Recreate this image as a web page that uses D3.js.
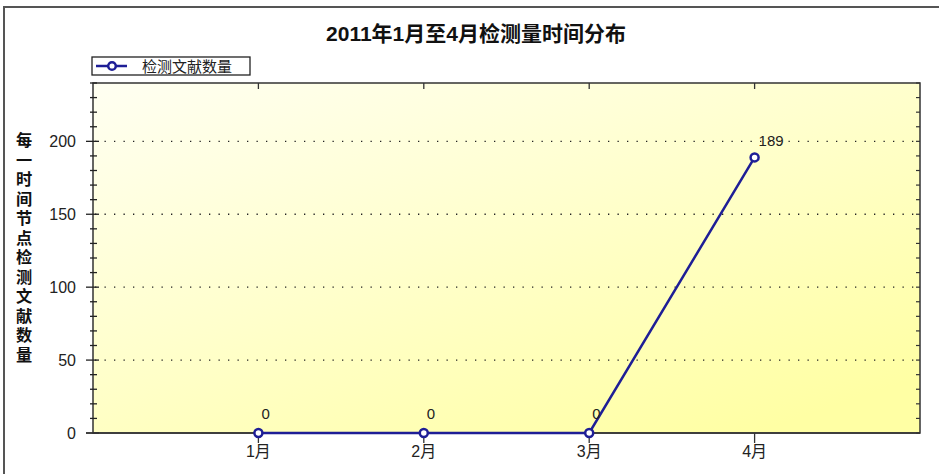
<!DOCTYPE html>
<html><head><meta charset="utf-8">
<script src="https://cdn.jsdelivr.net/npm/d3@7"></script>
<style>body{margin:0;background:#fff}svg{display:block}</style>
</head><body>
<script>
const categories = ["1月","2月","3月","4月"];
const values = [0, 0, 0, 189];
const yTicks = [0, 50, 100, 150, 200];
const seriesName = "检测文献数量";
const title = "2011年1月至4月检测量时间分布";
const yTitle = "每一时间节点检测文献数量";

const W = 939, H = 474;
const svg = d3.select("body").append("svg").attr("width", W).attr("height", H);
const font = "Arial, 'Liberation Sans', 'Noto Sans CJK SC', sans-serif";

const defs = svg.append("defs");
const grad = defs.append("linearGradient").attr("id","bg").attr("x1","0").attr("y1","0").attr("x2","0.8").attr("y2","1");
grad.append("stop").attr("offset","0%").attr("stop-color","#fffff2");
grad.append("stop").attr("offset","50%").attr("stop-color","#ffffcc");
grad.append("stop").attr("offset","100%").attr("stop-color","#ffffa4");

// outer border
svg.append("rect").attr("x",4).attr("y",7).attr("width",W).attr("height",H)
  .attr("fill","#fff").attr("stroke","#555").attr("stroke-width",2);

const L = 93, R = 920, T = 83, B = 433;
const x = d3.scalePoint().domain(categories).range([L, R]).padding(1);
const y = d3.scaleLinear().domain([0, 240]).range([B, T]);

svg.append("rect").attr("x",L).attr("y",T).attr("width",R-L).attr("height",B-T).attr("fill","url(#bg)");

// grid
svg.append("g").selectAll("line").data(yTicks.filter(d=>d>0)).join("line")
  .attr("x1",L+2).attr("x2",R).attr("y1",d=>y(d)).attr("y2",d=>y(d))
  .attr("stroke","#222").attr("stroke-width",1.3).attr("stroke-dasharray","1.3,8.2");

// frame
svg.append("rect").attr("x",L).attr("y",T).attr("width",R-L).attr("height",B-T)
  .attr("fill","none").attr("stroke","#333").attr("stroke-width",1.5);

const minor = d3.range(0, 241, 10);
// left ticks (crossing)
svg.append("g").selectAll("line").data(minor).join("line")
  .attr("x1",d=>d%50===0?L-7:L-3).attr("x2",d=>d%50===0?L+6:L+4)
  .attr("y1",d=>y(d)).attr("y2",d=>y(d)).attr("stroke","#222").attr("stroke-width",1.3);
// right ticks inward
svg.append("g").selectAll("line").data(minor).join("line")
  .attr("x1",R-4).attr("x2",R).attr("y1",d=>y(d)).attr("y2",d=>y(d))
  .attr("stroke","#333").attr("stroke-width",1.2);
// bottom axis extension to left
svg.append("line").attr("x1",L-7).attr("x2",R).attr("y1",B).attr("y2",B).attr("stroke","#333").attr("stroke-width",1.5);
// bottom ticks
svg.append("g").selectAll("line").data(categories).join("line")
  .attr("x1",d=>x(d)).attr("x2",d=>x(d)).attr("y1",B).attr("y2",B+10).attr("stroke","#333").attr("stroke-width",1.3);
// top ticks
svg.append("g").selectAll("line").data(categories).join("line")
  .attr("x1",d=>x(d)).attr("x2",d=>x(d)).attr("y1",T).attr("y2",T+6).attr("stroke","#333").attr("stroke-width",1.3);

// y tick labels
svg.append("g").selectAll("text").data(yTicks).join("text")
  .attr("x",76).attr("y",d=>y(d)+5.5).attr("text-anchor","end")
  .attr("font-family",font).attr("font-size",16).attr("fill","#222").text(d=>d);
// x labels
svg.append("g").selectAll("text").data(categories).join("text")
  .attr("x",d=>x(d)).attr("y",457).attr("text-anchor","middle")
  .attr("font-family",font).attr("font-size",16).attr("fill","#222").text(d=>d);

// title
svg.append("text").attr("x",476).attr("y",41).attr("text-anchor","middle")
  .attr("font-family",font).attr("font-size",21).attr("font-weight","bold").attr("fill","#111").text(title);

// y title vertical
svg.append("text").attr("x",24).attr("y",132)
  .style("writing-mode","vertical-rl").style("text-orientation","upright")
  .attr("letter-spacing",3.3)
  .attr("font-family","'Noto Sans CJK SC', sans-serif").attr("font-size",16.2).attr("font-weight","bold").attr("fill","#111").text(yTitle);

// legend
svg.append("rect").attr("x",92).attr("y",57).attr("width",158).attr("height",18).attr("fill","#fff").attr("stroke","#222").attr("stroke-width",1.3);
svg.append("line").attr("x1",96).attr("x2",127).attr("y1",66).attr("y2",66).attr("stroke","#1e1e96").attr("stroke-width",2.5);
svg.append("circle").attr("cx",112).attr("cy",66).attr("r",3.8).attr("fill","#fff").attr("stroke","#1e1e96").attr("stroke-width",2.5);
svg.append("text").attr("x",142).attr("y",72).attr("font-family","'Noto Sans CJK SC', sans-serif").attr("font-size",15).attr("fill","#222").text(seriesName);

// line
const data = categories.map((c,i)=>({c, v: values[i]}));
svg.append("path").datum(data)
  .attr("d", d3.line().x(d=>x(d.c)).y(d=>y(d.v)))
  .attr("fill","none").attr("stroke","#1e1e96").attr("stroke-width",2.5);
svg.append("g").selectAll("circle").data(data).join("circle")
  .attr("cx",d=>x(d.c)).attr("cy",d=>y(d.v)).attr("r",4)
  .attr("fill","#fff").attr("stroke","#1e1e96").attr("stroke-width",2.5);
// data labels
svg.append("g").selectAll("text").data(data).join("text")
  .attr("x",d=>x(d.c)+ (d.v>0?4:3)).attr("y",d=>y(d.v)-(d.v>0?11:14))
  .attr("font-family",font).attr("font-size",15).attr("fill","#222").text(d=>d.v);
</script>
</body></html>
